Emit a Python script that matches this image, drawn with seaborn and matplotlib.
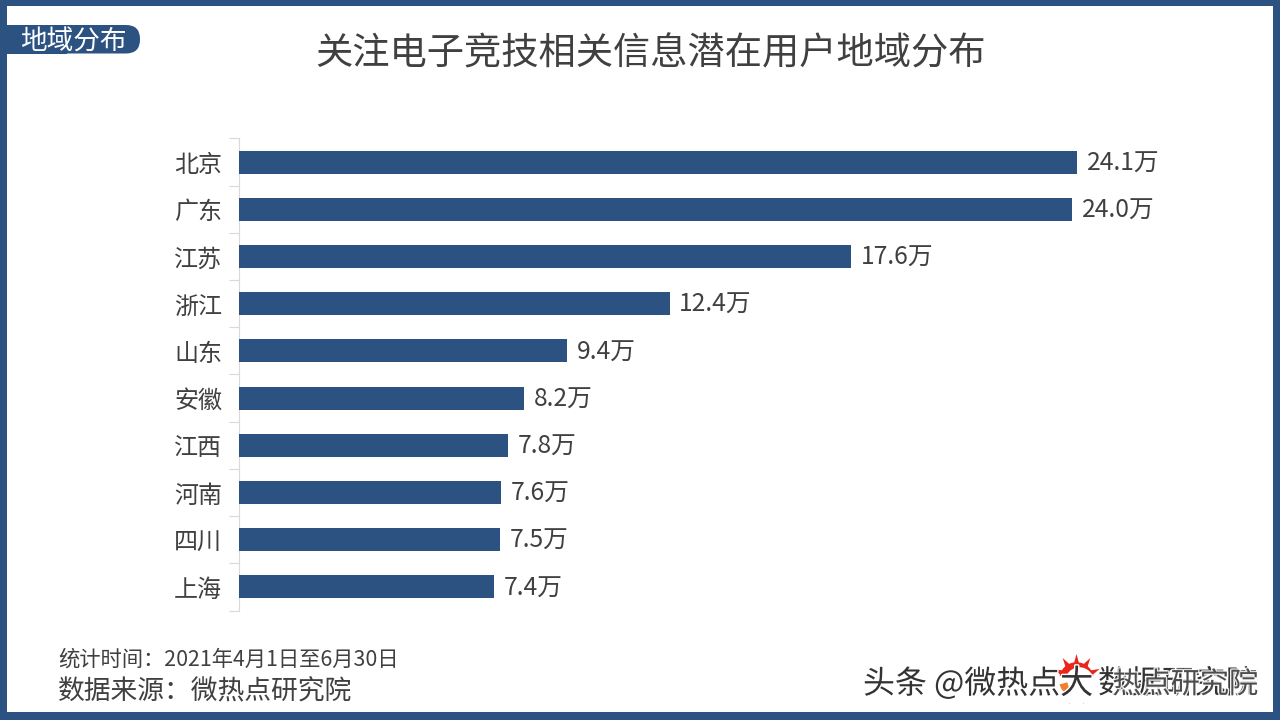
import matplotlib as mpl
mpl.use('Agg')
import matplotlib.pyplot as plt
import matplotlib.patches as mpatches
import matplotlib.patheffects as pe
import pandas as pd
import seaborn as sns

provinces = ['北京', '广东', '江苏', '浙江', '山东', '安徽', '江西', '河南', '四川', '上海']
# bar lengths as measured on the picture, the printed labels are rounded differently
users = [24.1, 23.97, 17.6, 12.39, 9.43, 8.2, 7.74, 7.54, 7.51, 7.33]
user_labels = ['24.1万', '24.0万', '17.6万', '12.4万', '9.4万', '8.2万', '7.8万', '7.6万', '7.5万', '7.4万']
title = '关注电子竞技相关信息潜在用户地域分布'
tag = '地域分布'
note_time = '统计时间：2021年4月1日至6月30日'
note_source = '数据来源：微热点研究院'
watermark_a = '头条 @微热点'
watermark_b = '大'
watermark_c = '数据研究院'
watermark_d = '热点研究院'

BLUE = '#2c5282'
TEXT = '#404040'
W, H = 1280, 720

sns.set_theme(style='white')
plt.rcParams['font.family'] = ['Noto Sans CJK SC', 'DejaVu Sans']

df = pd.DataFrame({'province': provinces, 'users': users})

fig = plt.figure(figsize=(12.8, 7.2), dpi=100, facecolor='white')
ax = fig.add_axes([238.8 / W, 1 - 610.5 / H, (1240 - 238.8) / W, 472 / H])
sns.barplot(data=df, y='province', x='users', color=BLUE, width=0.49, saturation=1,
            linewidth=0, ax=ax)

# 34.77 px per unit on the x axis
ax.set_xlim(0, (1240 - 238.8) / 34.77)
ax.set_ylim(len(provinces) - 0.5, -0.5)
ax.set_xlabel('')
ax.set_ylabel('')
ax.xaxis.set_visible(False)
for s in ['top', 'right', 'bottom']:
    ax.spines[s].set_visible(False)
ax.spines['left'].set_color('#d9d9d9')
ax.spines['left'].set_linewidth(0.8)
ax.spines['left'].set_zorder(0.5)

# ticks sit between the categories
ax.set_yticks([i - 0.5 for i in range(len(provinces) + 1)], minor=True)
ax.tick_params(axis='y', which='minor', length=7.5, width=0.8, color='#d9d9d9', left=True)
ax.tick_params(axis='y', which='major', length=0, pad=12, labelsize=17.3, labelcolor=TEXT)
for t in ax.get_yticklabels():
    t.set_fontweight('medium')

labels = ax.bar_label(ax.containers[0], labels=user_labels, padding=7,
                      fontsize=17.8, color=TEXT, fontweight='medium')
for t in labels:
    t.xyann = (7, -1)

overlay = fig.add_axes([0, 0, 1, 1], facecolor='none')
overlay.set_xlim(0, W)
overlay.set_ylim(H, 0)
overlay.axis('off')

# frame round the slide
overlay.add_patch(mpatches.Rectangle((0, 0), W, 6, color=BLUE, lw=0))
overlay.add_patch(mpatches.Rectangle((0, 712), W, 8, color=BLUE, lw=0))
overlay.add_patch(mpatches.Rectangle((0, 0), 7, H, color=BLUE, lw=0))
overlay.add_patch(mpatches.Rectangle((1273, 0), 7, H, color=BLUE, lw=0))

# tag pill, square on the left
overlay.add_patch(mpatches.Rectangle((7, 25), 60, 28.5, color=BLUE, lw=0))
overlay.add_patch(mpatches.FancyBboxPatch((30, 25), 110, 28.5, boxstyle='round,pad=0,rounding_size=14',
                                          facecolor=BLUE, edgecolor='none'))

overlay.text(73.5, 42.5, tag, color='white', fontsize=19.2, fontweight='medium', ha='center', va='center')
overlay.text(650.5, 54, title, color=TEXT, fontsize=26.85, ha='center', va='center')
overlay.text(58, 660, note_time, color=TEXT, fontsize=15.35, ha='left', va='center')
overlay.text(58, 691.5, note_source, color=TEXT, fontsize=19.3, ha='left', va='center')

# logo behind the watermark, only its comb shows
overlay.scatter([1076], [679], s=1350, marker=(11, 1, 0), color='#e8261c', linewidths=0, zorder=3)
overlay.scatter([1076], [679], s=620, marker='o', color='#e8261c', linewidths=0, zorder=3.05)
overlay.add_patch(mpatches.Rectangle((1050, 676), 58, 27, color='white', lw=0, zorder=3.1))
overlay.scatter([1079], [681], s=420, marker='o', color='white', linewidths=0, zorder=3.15)
overlay.add_patch(mpatches.Wedge((1076, 680), 17, 125, 165, facecolor='#f08030', edgecolor='none', zorder=3.2))
overlay.scatter([1079], [681], s=300, marker='o', color='white', linewidths=0, zorder=3.25)

# watermark, overprinted strings with a white halo
halo = [pe.withStroke(linewidth=2, foreground='white')]
overlay.text(863, 684, watermark_a, color='#333333', fontsize=23, ha='left', va='center',
             path_effects=halo, zorder=4)
overlay.text(1060, 684, watermark_b, color='#333333', fontsize=24, ha='left', va='center',
             path_effects=halo, zorder=4)
overlay.text(1258, 684, watermark_c, color='#333333', fontsize=23, ha='right', va='center',
             path_effects=halo, zorder=4)
overlay.text(1258, 685, watermark_d, color='#333333', fontsize=21, ha='right', va='center',
             path_effects=halo, alpha=0.85, zorder=5)

fig.savefig('out.png', dpi=100)
